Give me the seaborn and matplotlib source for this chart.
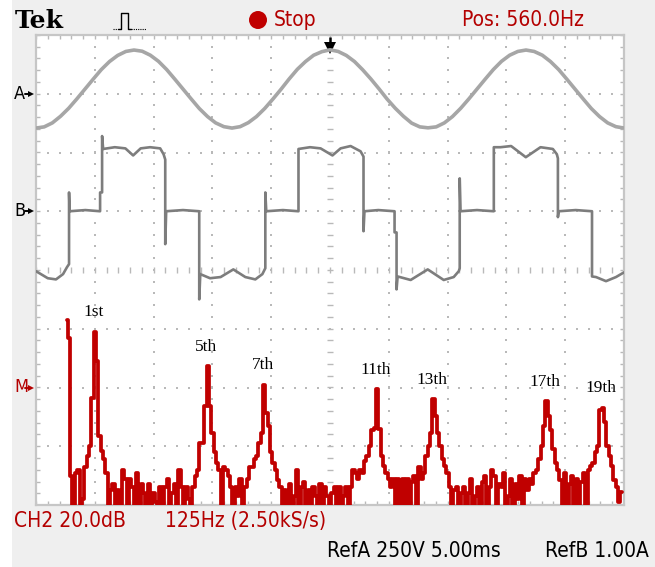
import numpy as np
import matplotlib
matplotlib.use("Agg")
import matplotlib.pyplot as plt
from matplotlib.patches import Rectangle, Circle
import seaborn as sns

# ---------------- scope settings ----------------
volts_per_div = 250.0      # RefA
amps_per_div = 1.0         # RefB
ms_per_div = 5.0
db_per_div = 20.0          # CH2 FFT
hz_per_div = 125.0
fft_center_hz = 560.0
sample_rate_label = "2.50kS/s"
marker_div = {"A": 3.0, "B": 1.0, "M": -2.0}   # reference markers, divisions from centre

# ---------------- channel A: line voltage (V), 24 samples per 60 Hz cycle ----------------
a_time_ms = np.linspace(0.0, 50.0, 73)
a_volts = [
    -146, -141, -124, -96, -62, -22, 20, 62, 103, 137, 163, 180,
    186, 181, 164, 138, 103, 62, 20, -22, -63, -97, -124, -140,
    -146, -140, -123, -97, -63, -23, 19, 63, 104, 137, 164, 179,
    187, 180, 163, 137, 102, 63, 21, -23, -62, -96, -125, -141,
    -145, -141, -124, -97, -62, -22, 20, 62, 103, 138, 164, 180,
    186, 180, 164, 137, 103, 62, 20, -22, -63, -97, -124, -140,
    -146,
]

# ---------------- channel B: inverter current (A), trace vertices ----------------
b_time_ms = [
    0.0, 1.0, 1.7, 2.3, 2.64, 2.81, 2.81, 2.86, 4.2, 5.45, 5.45, 5.62, 5.62, 5.71,
    6.7, 7.6, 8.26, 8.9, 9.7, 10.56, 10.85, 10.99, 10.99, 11.07, 12.5, 13.88, 13.88,
    13.97, 14.8, 15.7, 16.78, 17.8, 18.65, 19.25, 19.5, 19.5, 19.58, 21.0, 22.32,
    22.32, 23.3, 24.2, 25.21, 25.9, 26.75, 27.6, 27.85, 27.85, 27.93, 29.1, 30.49,
    30.49, 30.66, 30.66, 30.75, 31.86, 33.31, 34.67, 35.52, 35.95, 36.03, 36.03,
    36.1, 37.5, 38.93, 38.93, 39.5, 40.4, 41.65, 42.9, 43.95, 44.29, 44.38, 44.38,
    44.45, 45.9, 47.28, 47.28, 47.62, 48.47, 49.32, 50.0,
]
b_amps = [
    -1.02, -1.14, -1.16, -1.07, -0.95, -0.90, 0.32, 0.0, 0.02, 0.0, 0.32, 0.32, 1.28, 1.06,
    1.09, 1.07, 0.95, 1.07, 1.09, 1.07, 0.97, 0.88, -0.56, 0.0, 0.02, 0.0, -1.50,
    -1.07, -1.14, -1.12, -0.99, -1.12, -1.16, -1.07, -0.97, 0.32, 0.0, 0.02, 0.0,
    1.06, 1.09, 1.07, 0.95, 1.07, 1.11, 1.02, 0.93, -0.34, 0.0, 0.02, 0.0,
    -0.36, -0.36, -1.33, -1.11, -1.17, -0.99, -1.17, -1.12, -1.02, -0.97, 0.56,
    0.0, 0.02, 0.0, 1.09, 1.09, 1.11, 0.92, 1.09, 1.06, 0.97, 0.90, -0.10,
    0.0, 0.02, 0.0, -1.11, -1.12, -1.19, -1.12, -1.04,
]

# ---------------- math channel M: FFT of CH2 (dB), 5 Hz bins from DC ----------------
m_bin_hz = 5.0
m_db = [
    23, 17, -30, -42, -29, -28, -42, -38, -27, -23.4,
    -20, -3.5, 19, 9, -16.6, -21.7, -24.5, -29, -42, -35,
    -33, -42, -35, -42, -28, -31, -42, -31, -34, -42,
    -29, -42, -33, -36, -42, -33, -42, -36, -39, -42,
    -34, -42, -34, -31, -42, -36, -33, -42, -28, -34,
    -42, -34, -38, -42, -34, -30, -28, -19, -19, -6.4,
    7.3, -6.4, -15.4, -22, -25.6, -28, -42, -27, -28, -30,
    -34, -42, -34, -37, -31, -42, -34, -31, -27, -27,
    -24.5, -23.4, -19, -15.4, 1, -8.6, -13.2, -22, -25.6, -28,
    -31.4, -34, -42, -35, -42, -33, -42, -37, -28, -42,
    -34, -32, -42, -35, -42, -34, -37, -42, -33, -42,
    -34, -37, -42, -36, -34, -42, -34, -42, -37, -34,
    -42, -34, -28, -29, -31, -28, -29, -25, -23.4, -20,
    -14.4, -13.7, -0.5, -14, -23.4, -26.8, -29, -31, -34, -31,
    -42, -31, -42, -31, -42, -31, -42, -32, -30, -42,
    -27, -31, -29, -23.4, -20, -15.4, -3.9, -9.8, -15.4, -20,
    -24.5, -26.8, -29, -34, -42, -35, -34, -42, -36, -34,
    -42, -36, -31, -42, -37, -34, -42, -32, -30, -42,
    -34, -28, -30, -42, -33, -34, -29, -42, -37, -31,
    -42, -33, -38, -30, -42, -31, -35, -31, -33, -29,
    -28, -24.5, -20, -13.2, -4.7, -9.8, -14.4, -21, -25.6, -28,
    -31.4, -42, -29, -42, -33, -30, -42, -31, -42, -32,
    -29, -42, -28, -26.8, -25.6, -22, -20, -7.5, -6.9, -11.6,
    -20, -23.4, -26.8, -31.4, -34, -39, -35.5,
]
m_freq_hz = np.arange(len(m_db)) * m_bin_hz

fundamental_hz = 60.0
harmonic_orders = [1, 5, 7, 11, 13, 17, 19]

# ---------------- layout (pixels) ----------------
W, H = 655, 567
G_L, G_T, G_R, G_B = 36, 35, 624, 505
RED = "#c00000"
TXT_RED = "#b40000"
GRID = "#b9b9b9"
SCOPE_FONT = ["Liberation Sans Narrow", "DejaVu Sans"]

sns.set_theme(style="white")
plt.rcParams["font.family"] = ["DejaVu Sans"]

fig = plt.figure(figsize=(W / 100, H / 100), dpi=100, facecolor="#efefef")
rect = [G_L / W, 1 - G_B / H, (G_R - G_L) / W, (G_B - G_T) / H]

# graticule
ax_g = fig.add_axes(rect, zorder=1)
ax_g.set_xlim(0, 10)
ax_g.set_ylim(-4, 4)
ax_g.set_facecolor("white")
ax_g.set_xticks([])
ax_g.set_yticks([])
for sp in ax_g.spines.values():
    sp.set_color("#c6c6c6")
    sp.set_linewidth(1.6)

minor = np.arange(0, 10.001, 0.2)
minor_y = np.arange(-4, 4.001, 0.2)
for gx in range(1, 10):
    if gx == 5:
        continue
    ax_g.plot(np.full_like(minor_y, gx), minor_y, ls="none", marker="s", ms=1.6,
              color=GRID, mew=0)
for gy in range(-3, 4):
    if gy == 0:
        continue
    ax_g.plot(minor, np.full_like(minor, gy), ls="none", marker="s", ms=1.6,
              color=GRID, mew=0)
# centre cross with minor ticks
tick_h = 0.055
ax_g.vlines(minor, -tick_h, tick_h, color=GRID, lw=1.0)
ax_g.hlines(minor_y, 5 - tick_h * 0.8, 5 + tick_h * 0.8, color=GRID, lw=1.0)
# edge ticks
edge = 0.075
ax_g.vlines(minor, 4 - edge, 4, color=GRID, lw=1.0)
ax_g.vlines(minor, -4, -4 + edge, color=GRID, lw=1.0)
ax_g.hlines(minor_y, 0, edge * 0.8, color=GRID, lw=1.0)
ax_g.hlines(minor_y, 10 - edge * 0.8, 10, color=GRID, lw=1.0)
# trigger position arrow
ax_g.plot([5, 5], [3.97, 3.80], color="black", lw=1.8, solid_capstyle="butt")
ax_g.plot([5], [3.78], marker="v", ms=9, color="black", mew=0)


def trace_axes(z):
    ax = fig.add_axes(rect, zorder=z)
    ax.set_facecolor("none")
    ax.axis("off")
    return ax


# channel A
ax_a = trace_axes(2)
sns.lineplot(x=a_time_ms, y=a_volts, ax=ax_a, color="#a6a6a6", lw=2.6,
             sort=False, estimator=None)
ax_a.set_xlim(0, 10 * ms_per_div)
ax_a.set_ylim((-4 - marker_div["A"]) * volts_per_div, (4 - marker_div["A"]) * volts_per_div)
ax_a.axis("off")

# channel B
ax_b = trace_axes(3)
sns.lineplot(x=b_time_ms, y=b_amps, ax=ax_b, color="#7d7d7d", lw=1.9,
             sort=False, estimator=None)
ax_b.set_xlim(0, 10 * ms_per_div)
ax_b.set_ylim((-4 - marker_div["B"]) * amps_per_div, (4 - marker_div["B"]) * amps_per_div)
ax_b.axis("off")

# math channel (FFT)
ax_m = trace_axes(4)
sns.lineplot(x=m_freq_hz, y=m_db, ax=ax_m, color=RED, lw=2.7,
             sort=False, estimator=None, drawstyle="steps-mid")
ax_m.set_xlim(fft_center_hz - 5 * hz_per_div, fft_center_hz + 5 * hz_per_div)
ax_m.set_ylim((-4 - marker_div["M"]) * db_per_div, (4 - marker_div["M"]) * db_per_div)
ax_m.axis("off")


def ordinal(n):
    return f"{n}st" if n == 1 else f"{n}th"


for h in harmonic_orders:
    f = h * fundamental_hz
    peak = m_db[int(round(f / m_bin_hz))]
    ax_m.annotate(ordinal(h), (f, peak), xytext=(-1.0, 14.0), textcoords="offset points",
                  ha="center", va="center", fontsize=12.5, color="black",
                  family=["Liberation Serif", "DejaVu Serif"], annotation_clip=False)

# pixel overlay for header, markers and readouts
ax_p = fig.add_axes([0, 0, 1, 1], zorder=10)
ax_p.set_xlim(0, W)
ax_p.set_ylim(H, 0)
ax_p.set_facecolor("none")
ax_p.axis("off")
ax_p.add_patch(Rectangle((0, 0), 12, H, color="white", lw=0))

ax_p.text(15, 21, "Tek", family=["DejaVu Serif"], weight="bold",
          fontsize=18, va="center", ha="left", color="black")
# acquisition icon
ax_p.plot([113, 118], [29, 29], color="black", lw=0.8, ls=(0, (1, 1)))
ax_p.plot([118, 121, 121, 128, 128, 131], [29, 29, 13, 13, 29, 29], color="black", lw=1.0)
ax_p.plot([131, 146], [29, 29], color="black", lw=0.8, ls=(0, (1, 1)))

ax_p.add_patch(Circle((258, 20), 9, color=RED, lw=0))
ax_p.text(274, 20, "Stop", color=TXT_RED, fontsize=15, family=SCOPE_FONT,
          fontstretch="condensed", va="center", ha="left")
ax_p.text(462, 20, f"Pos: {fft_center_hz:.1f}Hz", color=TXT_RED, fontsize=15,
          family=SCOPE_FONT, fontstretch="condensed", va="center", ha="left")

for name, col in (("A", "black"), ("B", "black"), ("M", TXT_RED)):
    ypx = G_T + (4 - marker_div[name]) * (G_B - G_T) / 8
    ax_p.text(14, ypx, name, color=col, fontsize=13, family=SCOPE_FONT,
              fontstretch="condensed", va="center", ha="left")
    ax_p.plot([25, 31], [ypx, ypx], color=col, lw=1.4)
    ax_p.plot([31], [ypx], marker=">", ms=5, color=col, mew=0)

ax_p.text(14, 521, f"CH2 {db_per_div:.1f}dB", color=TXT_RED, fontsize=15,
          family=SCOPE_FONT, fontstretch="condensed", va="center", ha="left")
ax_p.text(165, 521, f"{hz_per_div:.0f}Hz ({sample_rate_label})", color=TXT_RED, fontsize=15,
          family=SCOPE_FONT, fontstretch="condensed", va="center", ha="left")
ax_p.text(327, 551, f"RefA {volts_per_div:.0f}V {ms_per_div:.2f}ms", color="black",
          fontsize=15, family=SCOPE_FONT, fontstretch="condensed", va="center", ha="left")
ax_p.text(545, 551, f"RefB {amps_per_div:.2f}A", color="black", fontsize=15,
          family=SCOPE_FONT, fontstretch="condensed", va="center", ha="left")

fig.savefig("out.png", dpi=100, facecolor=fig.get_facecolor())
